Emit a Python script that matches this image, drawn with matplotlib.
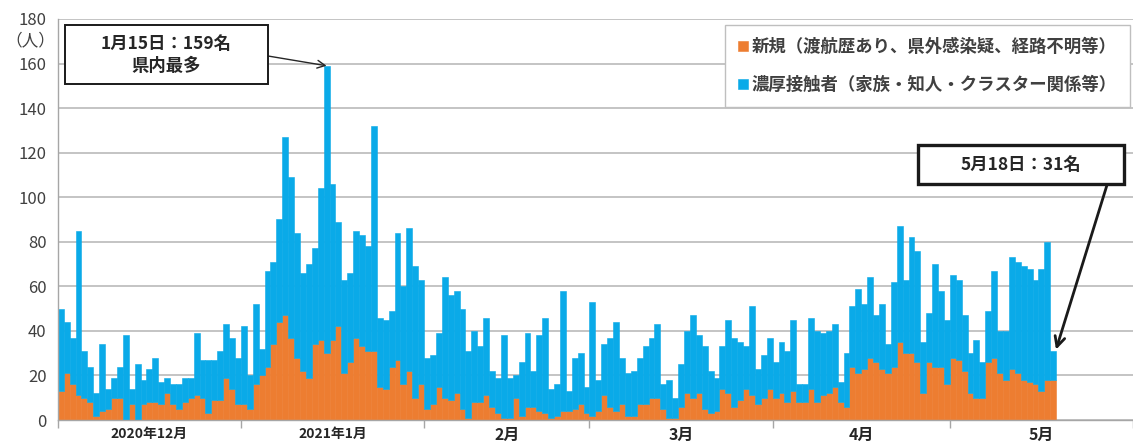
import numpy as np
import matplotlib
matplotlib.use('Agg')
import matplotlib.pyplot as plt
from matplotlib.patches import Rectangle

plt.rcParams['font.family'] = ['Noto Sans CJK JP', 'DejaVu Sans']

# 日別陽性者数 2020/12/1 ～ 2021/5/18（合計と新規）
dec_total = [50, 44, 37, 85, 31, 24, 12, 34, 14, 19, 24, 38, 14, 25, 18, 23, 28, 17, 19, 16,
             16, 19, 19, 39, 27, 27, 27, 31, 43, 37, 28]
dec_new = [13, 21, 16, 11, 10, 8, 2, 4, 5, 10, 10, 0, 7, 0, 7, 8, 8, 7, 12, 7,
           5, 8, 10, 11, 10, 3, 9, 9, 19, 14, 7]
jan_total = [42, 20, 52, 32, 67, 71, 90, 127, 109, 84, 66, 70, 77, 104, 159, 106, 89, 63, 66, 85,
             83, 78, 132, 46, 45, 49, 84, 60, 86, 69, 63]
jan_new = [7, 5, 16, 20, 24, 34, 44, 47, 37, 28, 22, 19, 34, 36, 30, 36, 42, 21, 26, 37,
           33, 31, 31, 15, 14, 24, 27, 16, 22, 10, 16]
feb_total = [28, 29, 39, 64, 56, 58, 50, 31, 40, 33, 46, 22, 19, 38, 19, 20, 26, 39, 22, 38,
             46, 14, 16, 58, 13, 28, 30, 15]
feb_new = [5, 7, 15, 10, 9, 12, 5, 1, 8, 8, 11, 6, 3, 1, 1, 10, 2, 6, 6, 4,
           3, 1, 2, 4, 4, 5, 7, 3]
mar_total = [53, 18, 34, 37, 44, 28, 21, 22, 28, 33, 37, 43, 16, 18, 10, 25, 40, 47, 38, 33,
             22, 19, 33, 45, 37, 35, 33, 51, 23, 29, 37]
mar_new = [2, 4, 11, 6, 4, 7, 2, 2, 7, 7, 10, 10, 5, 1, 1, 6, 12, 10, 12, 5,
           3, 4, 14, 12, 6, 9, 14, 11, 7, 10, 14]
apr_total = [26, 35, 31, 45, 16, 16, 46, 40, 39, 40, 43, 17, 30, 51, 59, 52, 64, 47, 52, 34,
             62, 87, 63, 82, 76, 35, 48, 70, 58, 45]
apr_new = [10, 12, 8, 13, 8, 8, 14, 8, 11, 12, 15, 8, 6, 24, 21, 23, 28, 26, 23, 21,
           24, 35, 30, 30, 26, 12, 26, 24, 24, 16]
may_total = [65, 63, 47, 30, 36, 26, 49, 67, 40, 40, 73, 71, 69, 68, 63, 68, 80, 31]
may_new = [28, 27, 22, 12, 10, 10, 26, 28, 21, 18, 23, 21, 18, 17, 16, 13, 18, 18]

month_labels = ['2020年12月', '2021年1月', '2月', '3月', '4月', '5月']
month_days = [31, 31, 28, 31, 30, 31]
legend_labels = ['新規（渡航歴あり、県外感染疑、経路不明等）', '濃厚接触者（家族・知人・クラスター関係等）']

total = np.array(dec_total + jan_total + feb_total + mar_total + apr_total + may_total)
new = np.array(dec_new + jan_new + feb_new + mar_new + apr_new + may_new)
contact = total - new

ORANGE = '#ED7D31'
BLUE = '#0AAAE8'
GRID = '#BFBFBF'
TXT = '#404040'

W, H = 1133, 448
fig = plt.figure(figsize=(W / 100, H / 100), dpi=100)
x0 = 57.8
ax = fig.add_axes([x0 / W, 28 / H, 1 - x0 / W, 401 / H])

days = np.arange(len(total))
ax.bar(days, new, width=1.0, align='edge', color=ORANGE, edgecolor=ORANGE, linewidth=0.4,
       label=legend_labels[0], zorder=2)
ax.bar(days, contact, bottom=new, width=1.0, align='edge', color=BLUE, edgecolor=BLUE,
       linewidth=0.4, label=legend_labels[1], zorder=2)

ax.set_ylim(0, 180)
ax.set_xlim(0, (W - x0) / 5.94)
ax.set_yticks(range(0, 181, 20))
ax.yaxis.grid(True, color=GRID, linewidth=1.3)
ax.set_axisbelow(True)
ax.tick_params(axis='y', length=0, pad=8, labelsize=12, labelcolor=TXT)

# 月の区切り
starts = np.concatenate([[0], np.cumsum(month_days)])
ax.set_xticks(starts)
ax.set_xticklabels([])
ax.set_xticks(starts[:-1] + np.array(month_days) / 2, minor=True)
ax.set_xticklabels(month_labels, minor=True)
ax.tick_params(axis='x', which='major', length=6, width=1, color='#A6A6A6', direction='out')
ax.tick_params(axis='x', which='minor', length=0, pad=5)
for i, lab in enumerate(ax.get_xticklabels(minor=True)):
    lab.set_fontweight('bold')
    lab.set_color('#262626')
    lab.set_fontsize(10 if i < 2 else 11.5)

for s in ['top', 'right']:
    ax.spines[s].set_visible(False)
for s in ['left', 'bottom']:
    ax.spines[s].set_color('#A6A6A6')
    ax.spines[s].set_linewidth(1.0)

fig.text(30 / W, 1 - 41 / H, '（人）', ha='center', va='center', fontsize=12, color=TXT)

leg = ax.legend(loc='upper right', bbox_to_anchor=(1130 / W, 1 - 25 / H), bbox_transform=fig.transFigure,
                fancybox=False, edgecolor=GRID, framealpha=1, fontsize=12.5, handlelength=0.55,
                handleheight=0.55, handletextpad=0.25, labelspacing=1.15, borderpad=0.75, borderaxespad=0)
leg.get_frame().set_linewidth(1.0)
for t in leg.get_texts():
    t.set_color(TXT)
    t.set_fontweight('bold')


def px_box(left, top, right, bottom, lw):
    r = Rectangle((left / W, 1 - bottom / H), (right - left) / W, (bottom - top) / H,
                  transform=fig.transFigure, facecolor='white', edgecolor='#1A1A1A',
                  linewidth=lw, zorder=5)
    fig.add_artist(r)


# 最多日の注記
peak = int(np.argmax(total))
px_box(65, 25, 268, 84, 1.4)
fig.text(166 / W, 1 - 55 / H, '1月15日：159名\n県内最多', ha='center', va='center', fontsize=12.5,
         fontweight='bold', color='#262626', linespacing=1.35, zorder=6)
ax.annotate('', xy=(peak + 0.5, total[peak]), xycoords='data',
            xytext=(268 / W, 1 - 56 / H), textcoords='figure fraction',
            arrowprops=dict(arrowstyle='->', color='#262626', lw=1.0, shrinkA=0, shrinkB=0,
                            mutation_scale=14), zorder=6)

# 最新日の注記
last = len(total) - 1
px_box(918, 145, 1124, 184, 2.4)
fig.text(1021 / W, 1 - 165 / H, '5月18日：31名', ha='center', va='center', fontsize=12.5,
         fontweight='bold', color='#262626', zorder=6)
ax.annotate('', xy=(last + 0.9, total[last]), xycoords='data',
            xytext=(1107 / W, 1 - 185 / H), textcoords='figure fraction',
            arrowprops=dict(arrowstyle='->', color='#1A1A1A', lw=2.0, shrinkA=0, shrinkB=1,
                            mutation_scale=18), zorder=6)

fig.savefig('out.png', dpi=100)
